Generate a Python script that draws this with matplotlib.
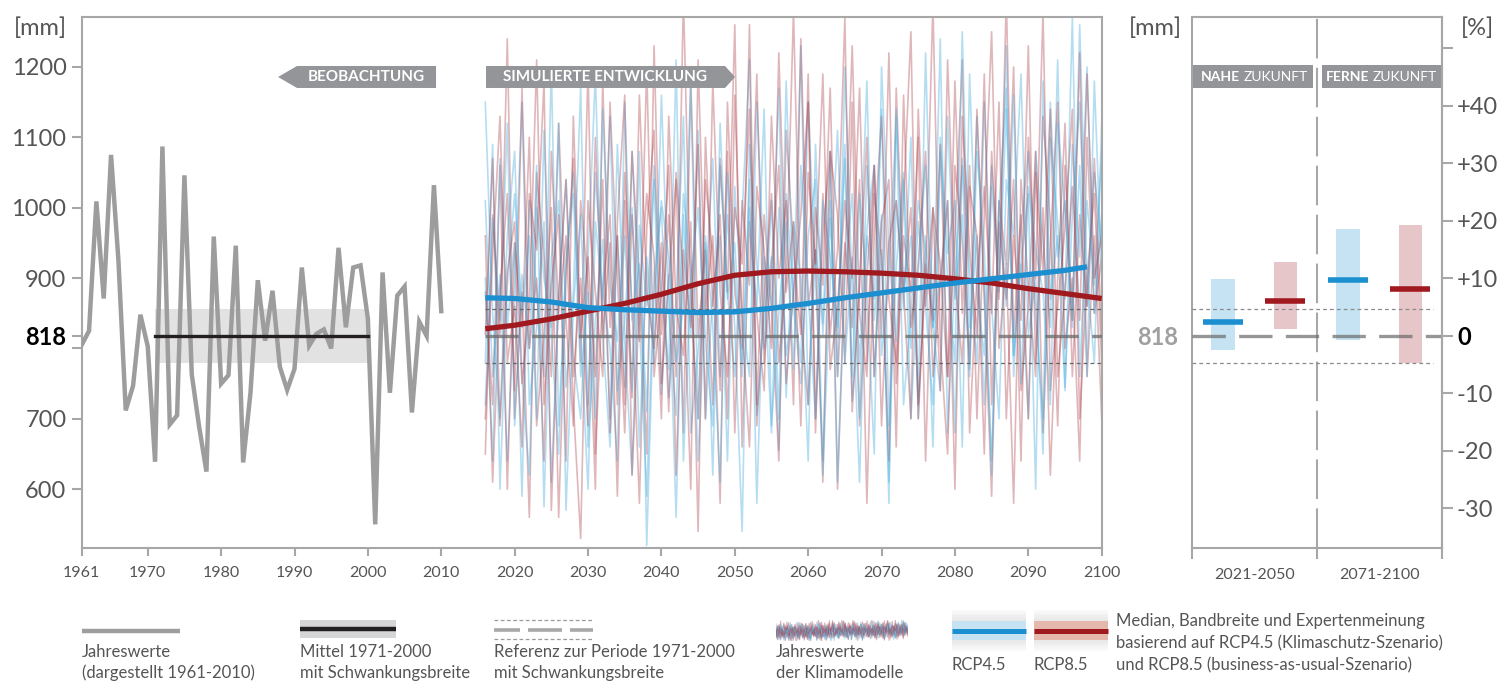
import numpy as np
import matplotlib.pyplot as plt
from matplotlib.patches import Polygon, Rectangle

plt.rcParams['font.family'] = ['Lato', 'DejaVu Sans']

W, H = 1499, 682

# observed annual precipitation [mm], 1961-2010
obs_years = np.arange(1961, 2011)
obs_mm = [805, 825, 1009, 871, 1075, 926, 712, 747, 848, 803,
          639, 1087, 692, 705, 1046, 763, 689, 625, 959, 750,
          762, 946, 638, 737, 897, 811, 882, 774, 741, 771,
          915, 804, 821, 827, 800, 943, 830, 915, 918, 842,
          550, 908, 737, 875, 888, 709, 838, 818, 1032, 853]

ref_mean = 818
ref_low, ref_high = 780, 856
ref_period = [1971, 2000]

# annual values of the climate model runs, 2016-2100
model_start = 2016
rcp45_runs = [
    [1010, 760, 905, 640, 880, 1150, 720, 830, 980, 610,
     870, 1040, 790, 700, 925, 1190, 815, 660, 960, 745,
     1080, 840, 590, 905, 1000, 730, 870, 1130, 680, 795,
     950, 620, 1060, 880, 760, 990, 1210, 705, 845, 930,
     655, 1020, 870, 780, 1150, 900, 640, 985, 820, 1070,
     725, 890, 1180, 760, 940, 610, 1010, 855, 1100, 700,
     960, 830, 1240, 680, 905, 1060, 770, 1130, 880, 640,
     1000, 1170, 790, 920, 700, 1080, 950, 830, 1210, 745,
     990, 1150, 860, 1050, 940],
    [720, 985, 840, 1120, 690, 905, 800, 1060, 575, 930,
     1010, 745, 880, 1170, 660, 840, 955, 700, 1090, 810,
     620, 975, 860, 1040, 735, 905, 560, 990, 820, 1110,
     700, 880, 960, 640, 1030, 850, 760, 1150, 905, 680,
     1000, 790, 870, 1230, 720, 940, 835, 1080, 610, 900,
     1020, 780, 960, 870, 1140, 690, 915, 1050, 800, 980,
     860, 720, 1100, 935, 1010, 660, 1190, 880, 790, 1060,
     905, 1230, 760, 970, 1080, 850, 700, 1150, 930, 1010,
     830, 1260, 900, 780, 1120],
    [900, 640, 1070, 830, 950, 590, 1010, 880, 760, 1200,
     690, 915, 1050, 820, 600, 980, 870, 1130, 740, 840,
     1000, 660, 930, 780, 1160, 850, 705, 1020, 915, 640,
     880, 1070, 760, 990, 830, 540, 1090, 920, 800, 1010,
     700, 1180, 860, 750, 960, 1040, 620, 895, 1110, 780,
     930, 700, 1060, 840, 990, 580, 1140, 880, 960, 730,
     1220, 830, 900, 1010, 680, 1070, 910, 780, 1150, 860,
     700, 1040, 960, 1190, 820, 900, 650, 1100, 980, 870,
     1270, 760, 1010, 890, 1080],
    [1150, 850, 700, 960, 1080, 760, 620, 1000, 900, 830,
     1120, 570, 860, 990, 720, 1050, 880, 800, 640, 1150,
     840, 920, 710, 1060, 880, 770, 1210, 640, 900, 1000,
     810, 690, 1120, 870, 950, 760, 1040, 580, 930, 860,
     1170, 730, 980, 900, 640, 1090, 820, 1010, 760, 1200,
     880, 610, 970, 1060, 790, 900, 1130, 720, 850, 1010,
     940, 660, 1080, 900, 780, 1250, 830, 960, 720, 1030,
     880, 1140, 790, 920, 1020, 600, 1180, 870, 960, 740,
     1090, 930, 1200, 850, 990],
    [780, 1090, 600, 890, 1020, 850, 960, 700, 1110, 820,
     650, 930, 1020, 760, 880, 700, 1140, 890, 810, 960,
     740, 1080, 520, 880, 1010, 930, 780, 860, 1180, 700,
     960, 830, 610, 1050, 900, 780, 1000, 860, 1140, 690,
     850, 980, 770, 1060, 880, 700, 1010, 930, 830, 1090,
     760, 1020, 880, 650, 1200, 940, 810, 1040, 700, 910,
     1060, 830, 740, 1130, 870, 990, 760, 1080, 940, 620,
     1010, 860, 1160, 750, 1030, 940, 880, 720, 1120, 1000,
     840, 1060, 760, 1180, 900],
]
rcp85_runs = [
    [650, 990, 820, 1240, 700, 880, 560, 1050, 930, 760,
     1120, 840, 690, 1010, 890, 600, 1180, 830, 960, 720,
     1080, 900, 650, 1230, 820, 990, 760, 1300, 870, 700,
     1040, 930, 580, 1150, 880, 800, 1260, 720, 990, 860,
     640, 1110, 940, 820, 1190, 700, 960, 1080, 600, 920,
     1230, 850, 760, 1020, 930, 640, 1170, 880, 1000, 720,
     900, 1290, 810, 650, 1060, 950, 780, 1140, 870, 590,
     1010, 920, 1200, 740, 860, 1080, 680, 950, 1150, 800,
     900, 640, 1100, 850, 930],
    [880, 720, 1060, 600, 950, 830, 1100, 690, 820, 1000,
     560, 900, 1070, 780, 1200, 650, 880, 990, 720, 1050,
     860, 580, 970, 1110, 750, 900, 1040, 680, 1180, 820,
     940, 720, 1070, 880, 1260, 660, 980, 850, 740, 1130,
     900, 1010, 720, 1240, 860, 940, 610, 1080, 990, 780,
     1150, 690, 900, 1060, 820, 1220, 750, 960, 880, 1100,
     640, 1000, 920, 760, 1180, 850, 1060, 700, 990, 1250,
     800, 920, 580, 1040, 890, 760, 1130, 980, 690, 1060,
     840, 1220, 760, 960, 700],
    [960, 610, 880, 1020, 740, 1170, 800, 900, 640, 1080,
     850, 960, 720, 530, 1010, 880, 760, 1150, 900, 680,
     990, 810, 1200, 760, 880, 1060, 620, 940, 830, 1090,
     700, 1180, 880, 760, 1000, 920, 1140, 690, 870, 1020,
     780, 900, 1280, 840, 720, 1000, 890, 1170, 760, 950,
     830, 1040, 580, 960, 1130, 870, 780, 1010, 1250, 700,
     920, 840, 1090, 760, 960, 1210, 680, 900, 1030, 850,
     1150, 700, 960, 840, 1230, 780, 1000, 620, 900, 1120,
     760, 990, 860, 1070, 820],
    [700, 930, 1130, 780, 860, 660, 1020, 940, 1180, 570,
     880, 1040, 760, 900, 690, 1100, 820, 950, 590, 1010,
     730, 1160, 880, 800, 950, 710, 1050, 900, 600, 1210,
     850, 960, 740, 1080, 680, 1010, 890, 1190, 780, 920,
     1060, 750, 880, 990, 1150, 680, 1020, 820, 940, 1270,
     710, 890, 1100, 760, 980, 1040, 660, 1160, 830, 920,
     1080, 760, 890, 1010, 600, 1130, 940, 820, 1190, 720,
     980, 870, 1040, 640, 1100, 900, 1280, 740, 860, 970,
     1140, 700, 900, 1020, 780],
    [820, 1070, 690, 910, 980, 750, 860, 1210, 720, 890,
     990, 640, 1130, 820, 930, 760, 1040, 680, 980, 1160,
     620, 870, 1020, 930, 700, 1130, 860, 790, 980, 540,
     1100, 860, 990, 700, 1160, 830, 660, 1030, 940, 800,
     1220, 880, 980, 690, 1050, 920, 1190, 770, 860, 1010,
     900, 1170, 780, 1060, 690, 950, 1010, 880, 700, 1140,
     860, 1000, 740, 1210, 900, 780, 1030, 960, 650, 1080,
     870, 1300, 820, 990, 700, 1050, 910, 1140, 760, 880,
     1030, 840, 1190, 900, 960],
]

# smoothed ensemble medians [mm]
median45_years = [2016, 2020, 2025, 2030, 2035, 2040, 2045, 2050, 2055,
                  2060, 2065, 2070, 2075, 2080, 2085, 2090, 2095, 2098]
median45_mm = [872, 871, 866, 858, 855, 853, 851, 852, 857,
               864, 872, 879, 886, 893, 899, 905, 911, 916]
median85_years = [2016, 2020, 2025, 2030, 2035, 2040, 2045, 2050, 2055,
                  2060, 2065, 2070, 2075, 2080, 2085, 2090, 2095, 2100]
median85_mm = [828, 833, 842, 853, 864, 877, 892, 904, 909,
               910, 909, 907, 904, 899, 893, 885, 878, 871]

# change vs. 1971-2000 [%]: near future 2021-2050, far future 2071-2100
periods = ['2021-2050', '2071-2100']
rcp45_low = [-2.5, -0.7]
rcp45_med = [2.4, 9.7]
rcp45_high = [9.8, 18.5]
rcp85_low = [1.2, -4.7]
rcp85_med = [6.1, 8.1]
rcp85_high = [12.9, 19.2]

mm_ticks = [600, 700, 800, 818, 900, 1000, 1100, 1200]
mm_labels = ['600', '700', '', '818', '900', '1000', '1100', '1200']
year_ticks = [1961, 1970, 1980, 1990, 2000, 2010, 2020, 2030, 2040,
              2050, 2060, 2070, 2080, 2090, 2100]
pct_ticks = [-30, -20, -10, 0, 10, 20, 30, 40, 50]
pct_labels = ['-30', '-20', '-10', '0', '+10', '+20', '+30', '+40', '']

GRID = '#a7a7a7'
TXT = '#555555'
BOX = '#939598'
BLUE = '#1b8fcf'
RED = '#a0191f'
LBLUE = '#c6e3f3'
LRED = '#e6c6c9'
YMIN, YMAX = 516, 1271
LEG_FS = 12


def px_box(x0, y0, x1, y1):
    return [x0 / W, 1 - y1 / H, (x1 - x0) / W, (y1 - y0) / H]


def style_spines(a):
    for s in a.spines.values():
        s.set_color(GRID)
        s.set_linewidth(1.5)


fig = plt.figure(figsize=(W / 100, H / 100), dpi=100)

# ---- time series panel ----
ax = fig.add_axes(px_box(81.7, 17, 1101.7, 548.3))
ax.set_xlim(1961, 2100)
ax.set_ylim(YMIN, YMAX)
style_spines(ax)

for r45, r85 in zip(rcp45_runs, rcp85_runs):
    ax.plot(np.arange(model_start, model_start + len(r45)), r45,
            color='#4fb0de', lw=1.2, alpha=0.42, zorder=2)
    ax.plot(np.arange(model_start, model_start + len(r85)), r85,
            color='#a83640', lw=1.2, alpha=0.36, zorder=2)

ax.fill_between(ref_period, ref_low, ref_high, color='#e2e2e2', lw=0, zorder=1)
ax.plot(ref_period, [ref_mean, ref_mean], color='#231f20', lw=2.4, zorder=5)
ax.plot(obs_years, obs_mm, color='#9d9d9d', lw=3.2,
        solid_joinstyle='miter', zorder=4)

ax.plot([model_start, 2100], [ref_mean, ref_mean], color='#6a6a6a', lw=2.4,
        dashes=(10, 4), alpha=0.75, zorder=6)
for v in (ref_low, ref_high):
    ax.plot([model_start, 2100], [v, v], color='#666666', lw=0.9,
            dashes=(3, 2.5), zorder=6)

ax.plot(median85_years, median85_mm, color=RED, lw=3.8,
        solid_capstyle='butt', zorder=8)
ax.plot(median45_years, median45_mm, color=BLUE, lw=3.8,
        solid_capstyle='butt', zorder=9)

ax.set_yticks(mm_ticks)
ax.set_yticklabels(mm_labels)
ax.set_xticks(year_ticks)
ax.set_xticklabels([str(y) for y in year_ticks])
ax.tick_params(axis='both', direction='out', color=GRID, width=1.5)
ax.tick_params(axis='y', length=7, pad=4, labelsize=17, labelcolor=TXT)
ax.tick_params(axis='x', length=6, pad=7, labelsize=11.5, labelcolor=TXT)
for t in ax.get_yticklabels():
    if t.get_text() == '818':
        t.set_fontweight('bold')
        t.set_color('black')

# arrow labels
ax.add_patch(Polygon([(0.1925, 0.8871), (0.2111, 0.9078), (0.3474, 0.9078),
                      (0.3474, 0.8664), (0.2111, 0.8664)],
                     closed=True, transform=ax.transAxes, color=BOX, lw=0, zorder=10))
ax.text(0.2792, 0.8871, 'BEOBACHTUNG', transform=ax.transAxes, color='white',
        fontsize=11, fontweight='bold', ha='center', va='center', zorder=11)
ax.add_patch(Polygon([(0.3964, 0.9078), (0.6307, 0.9078), (0.6405, 0.8871),
                      (0.6307, 0.8664), (0.3964, 0.8664)],
                     closed=True, transform=ax.transAxes, color=BOX, lw=0, zorder=10))
ax.text(0.5135, 0.8871, 'SIMULIERTE ENTWICKLUNG', transform=ax.transAxes,
        color='white', fontsize=11, fontweight='bold', ha='center',
        va='center', zorder=11)

# ---- change panel ----
pct_lim = ((YMIN / ref_mean - 1) * 100, (YMAX / ref_mean - 1) * 100)
axr = fig.add_axes(px_box(1191.7, 17, 1441.7, 548.3))
axr.set_xlim(0, 4)
axr.set_ylim(*pct_lim)
style_spines(axr)

band_pct = (ref_high / ref_mean - 1) * 100
axr.axvline(2, color=GRID, lw=1.5, dashes=(19, 4.5), zorder=1)
for i in range(len(periods)):
    x45, x85 = 2 * i + 0.5, 2 * i + 1.5
    axr.bar(x45, rcp45_high[i] - rcp45_low[i], bottom=rcp45_low[i],
            width=0.38, color=LBLUE, zorder=2)
    axr.bar(x85, rcp85_high[i] - rcp85_low[i], bottom=rcp85_low[i],
            width=0.38, color=LRED, zorder=2)
    axr.plot([x45 - 0.32, x45 + 0.32], [rcp45_med[i]] * 2, color=BLUE,
             lw=4, solid_capstyle='butt', zorder=5)
    axr.plot([x85 - 0.32, x85 + 0.32], [rcp85_med[i]] * 2, color=RED,
             lw=4, solid_capstyle='butt', zorder=5)

axr.plot([0, 4], [0, 0], color='#6a6a6a', lw=2.4, dashes=(10, 4),
         alpha=0.7, zorder=4)
for v in (band_pct, -band_pct):
    axr.plot([0, 3.86], [v, v], color='#8a8a8a', lw=0.9, dashes=(3, 2.5), zorder=4)

axr.set_yticks([0])
axr.set_yticklabels(['818'], fontweight='bold', fontsize=17, color='#a0a0a0')
axr.tick_params(axis='y', length=0, pad=10)
axr.set_xticks([0, 2, 4])
axr.set_xticklabels(['', '', ''])
axr.set_xticks([1, 3], minor=True)
axr.set_xticklabels(periods, minor=True)
axr.tick_params(axis='x', which='major', direction='out', length=8,
                width=1.5, color=GRID)
axr.tick_params(axis='x', which='minor', length=0, pad=14, labelsize=11.5,
                labelcolor=TXT)

axp = axr.twinx()
axp.set_ylim(*pct_lim)
for s in ('left', 'top', 'bottom'):
    axp.spines[s].set_visible(False)
axp.spines['right'].set_color(GRID)
axp.spines['right'].set_linewidth(1.5)
axp.set_yticks(pct_ticks)
axp.set_yticklabels(pct_labels)
axp.tick_params(axis='y', direction='out', length=8, width=1.5, color=GRID,
                pad=3, labelsize=17, labelcolor=TXT)
for t in axp.get_yticklabels():
    if t.get_text() == '0':
        t.set_fontweight('bold')
        t.set_color('black')

# period headers
for x0, x1, split, bold in [(0.005, 0.485, 0.201, 'NAHE'),
                            (0.521, 1.0, 0.718, 'FERNE')]:
    axr.add_patch(Rectangle((x0, 0.8664), x1 - x0, 0.0433, transform=axr.transAxes,
                            color=BOX, lw=0, clip_on=False, zorder=10))
    axr.text(split - 0.006, 0.8871, bold, transform=axr.transAxes, color='white',
             fontsize=10, fontweight='bold', ha='right', va='center', zorder=11)
    axr.text(split + 0.006, 0.8871, 'ZUKUNFT', transform=axr.transAxes,
             color='white', fontsize=10, ha='left', va='center', zorder=11)

# ---- units and legend ----
lg = fig.add_axes([0, 0, 1, 1])
lg.set_xlim(0, W)
lg.set_ylim(H, 0)
lg.axis('off')
lg.patch.set_alpha(0)

lg.text(67, 28, '[mm]', fontsize=17, color=TXT, ha='right', va='center')
lg.text(1182, 28, '[mm]', fontsize=17, color=TXT, ha='right', va='center')
lg.text(1461, 28, '[%]', fontsize=17, color=TXT, ha='left', va='center')

lg.plot([82, 180], [631, 631], color='#9d9d9d', lw=3.2, solid_capstyle='butt')
lg.text(82, 652, 'Jahreswerte', fontsize=LEG_FS, color=TXT, va='center')
lg.text(82, 673, '(dargestellt 1961-2010)', fontsize=LEG_FS, color=TXT, va='center')

lg.add_patch(Rectangle((300, 620), 96, 18, color='#d6d6d6', lw=0))
lg.plot([300, 396], [629, 629], color='#231f20', lw=3.2, solid_capstyle='butt')
lg.text(300, 652, 'Mittel 1971-2000', fontsize=LEG_FS, color=TXT, va='center')
lg.text(300, 673, 'mit Schwankungsbreite', fontsize=LEG_FS, color=TXT, va='center')

for y in (620, 639):
    lg.plot([494, 593], [y, y], color='#9a9a9a', lw=0.9, dashes=(3, 2))
for xa, xb in [(494, 520), (528, 562), (570, 593)]:
    lg.plot([xa, xb], [630, 630], color='#a8a8a8', lw=2.6, solid_capstyle='butt')
lg.text(494, 652, 'Referenz zur Periode 1971-2000', fontsize=LEG_FS, color=TXT,
        va='center')
lg.text(494, 673, 'mit Schwankungsbreite', fontsize=LEG_FS, color=TXT, va='center')

sp = fig.add_axes(px_box(776, 620, 908, 641))
for r45, r85 in zip(rcp45_runs, rcp85_runs):
    sp.plot(np.arange(model_start, model_start + len(r45)), r45,
            color='#4fb0de', lw=0.8, alpha=0.45)
    sp.plot(np.arange(model_start, model_start + len(r85)), r85,
            color='#b03e48', lw=0.8, alpha=0.4)
sp.set_xlim(model_start, 2100)
sp.set_ylim(560, 1280)
sp.axis('off')
lg.text(776, 652, 'Jahreswerte', fontsize=LEG_FS, color=TXT, va='center')
lg.text(776, 673, 'der Klimamodelle', fontsize=LEG_FS, color=TXT, va='center')

for x0, band, line, name in [(952, LBLUE, BLUE, 'RCP4.5'),
                             (1034, '#e5b8ae', RED, 'RCP8.5')]:
    for k in range(6):
        c = str(0.975 - 0.012 * k)
        lg.add_patch(Rectangle((x0, 610 + k * 1.8), 74, 1.8, color=c, lw=0))
        lg.add_patch(Rectangle((x0, 649 - k * 1.8), 74, 1.8, color=c, lw=0))
    lg.add_patch(Rectangle((x0, 621), 74, 19, color=band, lw=0))
    lg.plot([x0, x0 + 74], [631, 631], color=line, lw=3.6, solid_capstyle='butt')
    lg.text(x0, 665, name, fontsize=LEG_FS, color=TXT, va='center')

lg.text(1116, 621, 'Median, Bandbreite und Expertenmeinung', fontsize=LEG_FS,
        color=TXT, va='center')
lg.text(1116, 643, 'basierend auf RCP4.5 (Klimaschutz-Szenario)', fontsize=LEG_FS,
        color=TXT, va='center')
lg.text(1116, 665, 'und RCP8.5 (business-as-usual-Szenario)', fontsize=LEG_FS,
        color=TXT, va='center')

fig.savefig('out.png', dpi=100)
